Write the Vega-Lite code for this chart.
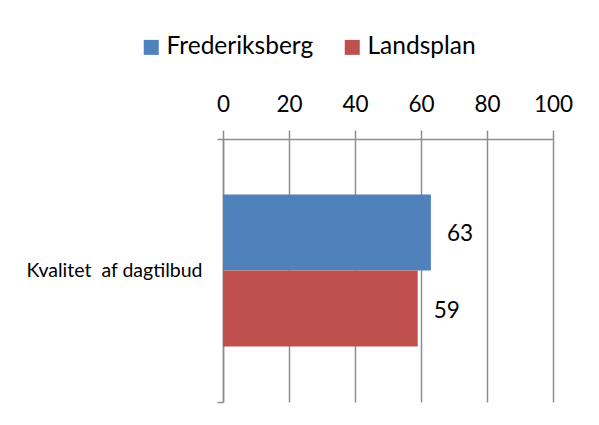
{
  "$schema": "https://vega.github.io/schema/vega-lite/v6.json",
  "width": 330,
  "height": 263,
  "autosize": {"type": "none"},
  "padding": {"left": 223, "top": 139, "right": 46, "bottom": 23},
  "background": "white",
  "config": {
    "font": "Lato",
    "view": {"stroke": null}
  },
  "data": {
    "values": [
      {"cat": "Kvalitet\u00a0 af dagtilbud", "series": "Frederiksberg", "value": 63},
      {"cat": "Kvalitet\u00a0 af dagtilbud", "series": "Landsplan", "value": 59}
    ]
  },
  "encoding": {
    "y": {
      "field": "cat",
      "type": "nominal",
      "scale": {"paddingInner": 0, "paddingOuter": 0},
      "axis": {
        "title": null,
        "tickBand": "extent",
        "domainColor": "#8e8e8e",
        "domainWidth": 1.5,
        "tickColor": "#8e8e8e",
        "tickWidth": 1.5,
        "tickSize": 6,
        "labelPadding": 15,
        "labelFontSize": 19.5,
        "labelColor": "#000000",
        "labelFont": "Lato",
        "labelLimit": 250
      }
    },
    "yOffset": {
      "field": "series",
      "type": "nominal",
      "sort": ["Frederiksberg", "Landsplan"],
      "scale": {"paddingInner": 0, "paddingOuter": 0.73}
    },
    "x": {
      "field": "value",
      "type": "quantitative",
      "scale": {"domain": [0, 100], "nice": false},
      "axis": {
        "orient": "top",
        "title": null,
        "values": [0, 20, 40, 60, 80, 100],
        "labelFlush": false,
        "grid": true,
        "gridColor": "#8e8e8e",
        "gridWidth": 1.5,
        "domainColor": "#8e8e8e",
        "domainWidth": 1.5,
        "tickColor": "#8e8e8e",
        "tickWidth": 1.5,
        "tickSize": 9,
        "labelPadding": 14,
        "labelFontSize": 22.5,
        "labelColor": "#000000",
        "labelFont": "Lato"
      }
    }
  },
  "layer": [
    {
      "mark": {"type": "bar"},
      "encoding": {
        "color": {
          "field": "series",
          "type": "nominal",
          "sort": ["Frederiksberg", "Landsplan"],
          "scale": {"range": ["#4f81bd", "#c0504d"]},
          "legend": {
            "title": null,
            "orient": "none",
            "direction": "horizontal",
            "legendX": -84,
            "legendY": -104,
            "symbolType": "square",
            "symbolSize": 225,
            "symbolStrokeWidth": 0,
            "symbolOpacity": 1,
            "labelFontSize": 24.5,
            "labelFont": "Lato",
            "labelColor": "#000000",
            "labelOffset": 3,
            "columnPadding": 26
          }
        }
      }
    },
    {
      "mark": {"type": "text", "align": "left", "baseline": "middle", "dx": 16, "dy": 2, "fontSize": 22.5, "font": "Lato", "color": "#000000"},
      "encoding": {
        "text": {"field": "value", "type": "quantitative"}
      }
    }
  ]
}
